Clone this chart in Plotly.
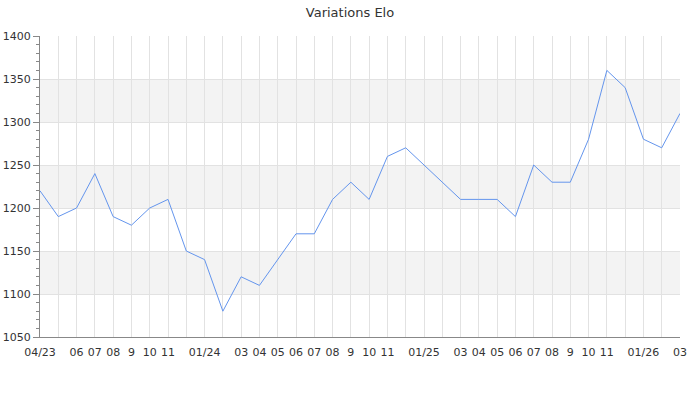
import plotly.graph_objects as go

months = ["04/23","05/23","06/23","07/23","08/23","09/23","10/23","11/23","12/23",
          "01/24","02/24","03/24","04/24","05/24","06/24","07/24","08/24","09/24","10/24","11/24","12/24",
          "01/25","02/25","03/25","04/25","05/25","06/25","07/25","08/25","09/25","10/25","11/25","12/25",
          "01/26","02/26","03/26"]
tick_labels = ["04/23","","06","07","08","9","10","11","",
               "01/24","","03","04","05","06","07","08","9","10","11","",
               "01/25","","03","04","05","06","07","08","9","10","11","",
               "01/26","","03"]
elo = [1220,1190,1200,1240,1190,1180,1200,1210,1150,
       1140,1080,1120,1110,1140,1170,1170,1210,1230,1210,1260,1270,
       1250,1230,1210,1210,1210,1190,1250,1230,1230,1280,1360,1340,
       1280,1270,1310]
band_starts = [1100, 1200, 1300]

fig = go.Figure()
fig.add_trace(go.Scatter(x=months, y=elo, mode="lines",
                         line=dict(color="#6495ED", width=1)))

for b in band_starts:
    fig.add_shape(type="rect", xref="paper", yref="y", x0=0, x1=1, y0=b, y1=b + 50,
                  fillcolor="#f3f3f3", line=dict(width=0), layer="below")

fig.update_layout(
    width=700, height=400,
    margin=dict(l=40, r=20, t=36, b=63),
    paper_bgcolor="white", plot_bgcolor="white",
    showlegend=False,
    font=dict(family="DejaVu Sans", size=11, color="#333"),
    title=dict(text="Variations Elo", x=0.5, xanchor="center", y=0.97, yanchor="middle",
               font=dict(size=13, color="#333")),
)
fig.update_xaxes(type="category", range=[0, len(months) - 1],
                 tickvals=months, ticktext=tick_labels, tickangle=0,
                 showgrid=True, gridcolor="#e2e2e2", gridwidth=1,
                 showline=True, linecolor="#888", linewidth=1,
                 ticks="", ticklabelstandoff=5, zeroline=False, automargin=False)
fig.update_yaxes(range=[1050, 1400], dtick=50, tick0=1050,
                 showgrid=True, gridcolor="#e2e2e2", gridwidth=1,
                 showline=True, linecolor="#888", linewidth=1,
                 ticks="outside", ticklen=6, tickcolor="#888",
                 minor=dict(dtick=10, ticks="outside", ticklen=3, tickcolor="#888", showgrid=False),
                 zeroline=False, automargin=False)

fig.write_html("out.html", config={"displayModeBar": False},
               post_script="document.body.style.margin='0';")
